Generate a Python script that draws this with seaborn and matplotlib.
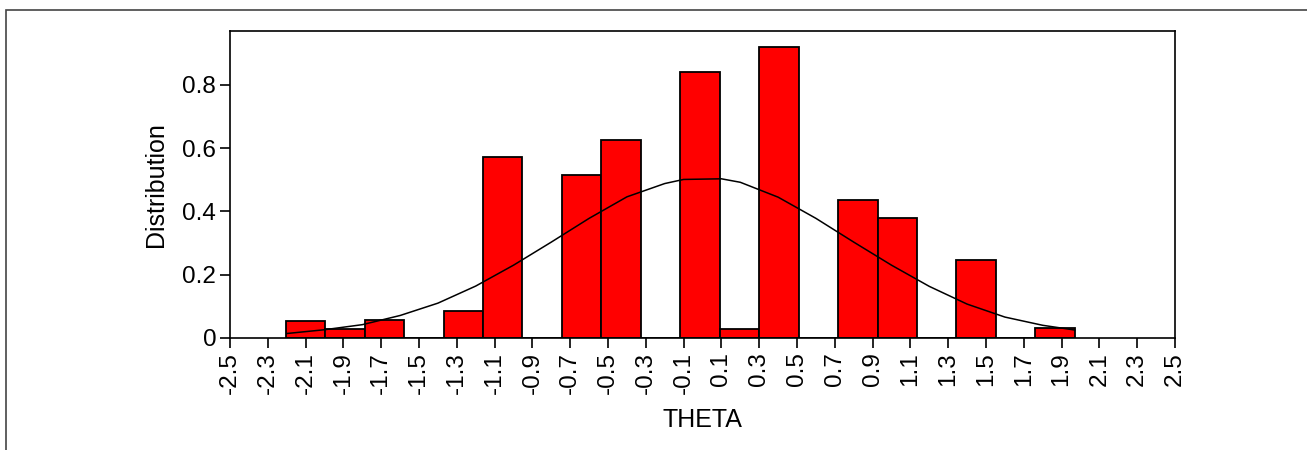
import numpy as np
import pandas as pd
import matplotlib
matplotlib.use('Agg')
import matplotlib.pyplot as plt
import seaborn as sns
from matplotlib.patches import Rectangle

# histogram: 20 equal bins between min and max of THETA
theta_min = -2.205
theta_max = 1.97
bar_heights = [0.055, 0.029, 0.056, 0.0, 0.084, 0.571, 0.0, 0.515, 0.625, 0.0,
               0.841, 0.029, 0.920, 0.0, 0.436, 0.380, 0.0, 0.246, 0.0, 0.030]

# fitted normal curve
curve_x = [-2.2, -2.0, -1.8, -1.6, -1.4, -1.2, -1.0, -0.8, -0.6, -0.4, -0.2, -0.1,
           0.1, 0.2, 0.4, 0.6, 0.8, 1.0, 1.2, 1.4, 1.6, 1.8, 1.97]
curve_y = [0.014, 0.026, 0.042, 0.071, 0.110, 0.164, 0.230, 0.303, 0.378, 0.446, 0.488, 0.501,
           0.503, 0.492, 0.445, 0.378, 0.303, 0.230, 0.163, 0.107, 0.066, 0.040, 0.025]

x_ticks = [-2.5, -2.3, -2.1, -1.9, -1.7, -1.5, -1.3, -1.1, -0.9, -0.7, -0.5, -0.3, -0.1,
           0.1, 0.3, 0.5, 0.7, 0.9, 1.1, 1.3, 1.5, 1.7, 1.9, 2.1, 2.3, 2.5]
y_ticks = [0, 0.2, 0.4, 0.6, 0.8]
y_labels = ['0', '0.2', '0.4', '0.6', '0.8']

sns.set_style('white')
plt.rcParams['font.family'] = ['Liberation Sans', 'DejaVu Sans']
plt.rcParams['text.color'] = 'black'
plt.rcParams['axes.labelcolor'] = 'black'
plt.rcParams['xtick.color'] = 'black'
plt.rcParams['ytick.color'] = 'black'

fig = plt.figure(figsize=(13.07, 4.5), dpi=100)
ax = fig.add_axes([0.176, 0.249, 0.723, 0.682])

nbins = len(bar_heights)
width = (theta_max - theta_min) / nbins
hist_df = pd.DataFrame({'THETA': theta_min + width * (np.arange(nbins) + 0.5),
                        'w': bar_heights})
sns.histplot(data=hist_df, x='THETA', weights='w', binwidth=width,
             binrange=(theta_min, theta_max), color='#ff0000',
             edgecolor='black', linewidth=1.3, alpha=1, ax=ax)
sns.lineplot(x=curve_x, y=curve_y, color='black', linewidth=1.1, ax=ax)

ax.set_xlim(-2.5, 2.5)
ax.set_ylim(0, 0.97)
ax.set_xticks(x_ticks)
ax.set_xticklabels([f'{t:.1f}' for t in x_ticks], rotation=90)
ax.set_yticks(y_ticks)
ax.set_yticklabels(y_labels)
ax.tick_params(axis='both', labelsize=17.5, length=7, width=1.2, color='black',
               labelcolor='black', direction='out', bottom=True, left=True, pad=3)
ax.set_xlabel('THETA', fontsize=18, labelpad=10)
ax.set_ylabel('Distribution', fontsize=18, labelpad=10)
for s in ax.spines.values():
    s.set_visible(True)
    s.set_color('black')
    s.set_linewidth(1.2)

# outer frame around the figure
fig.patches.append(Rectangle((6 / 1307, -0.02), 1.02, 1 - 10 / 450 + 0.02,
                             transform=fig.transFigure, fill=False,
                             edgecolor='#444444', linewidth=1.2))

fig.savefig('out.png', dpi=100)
